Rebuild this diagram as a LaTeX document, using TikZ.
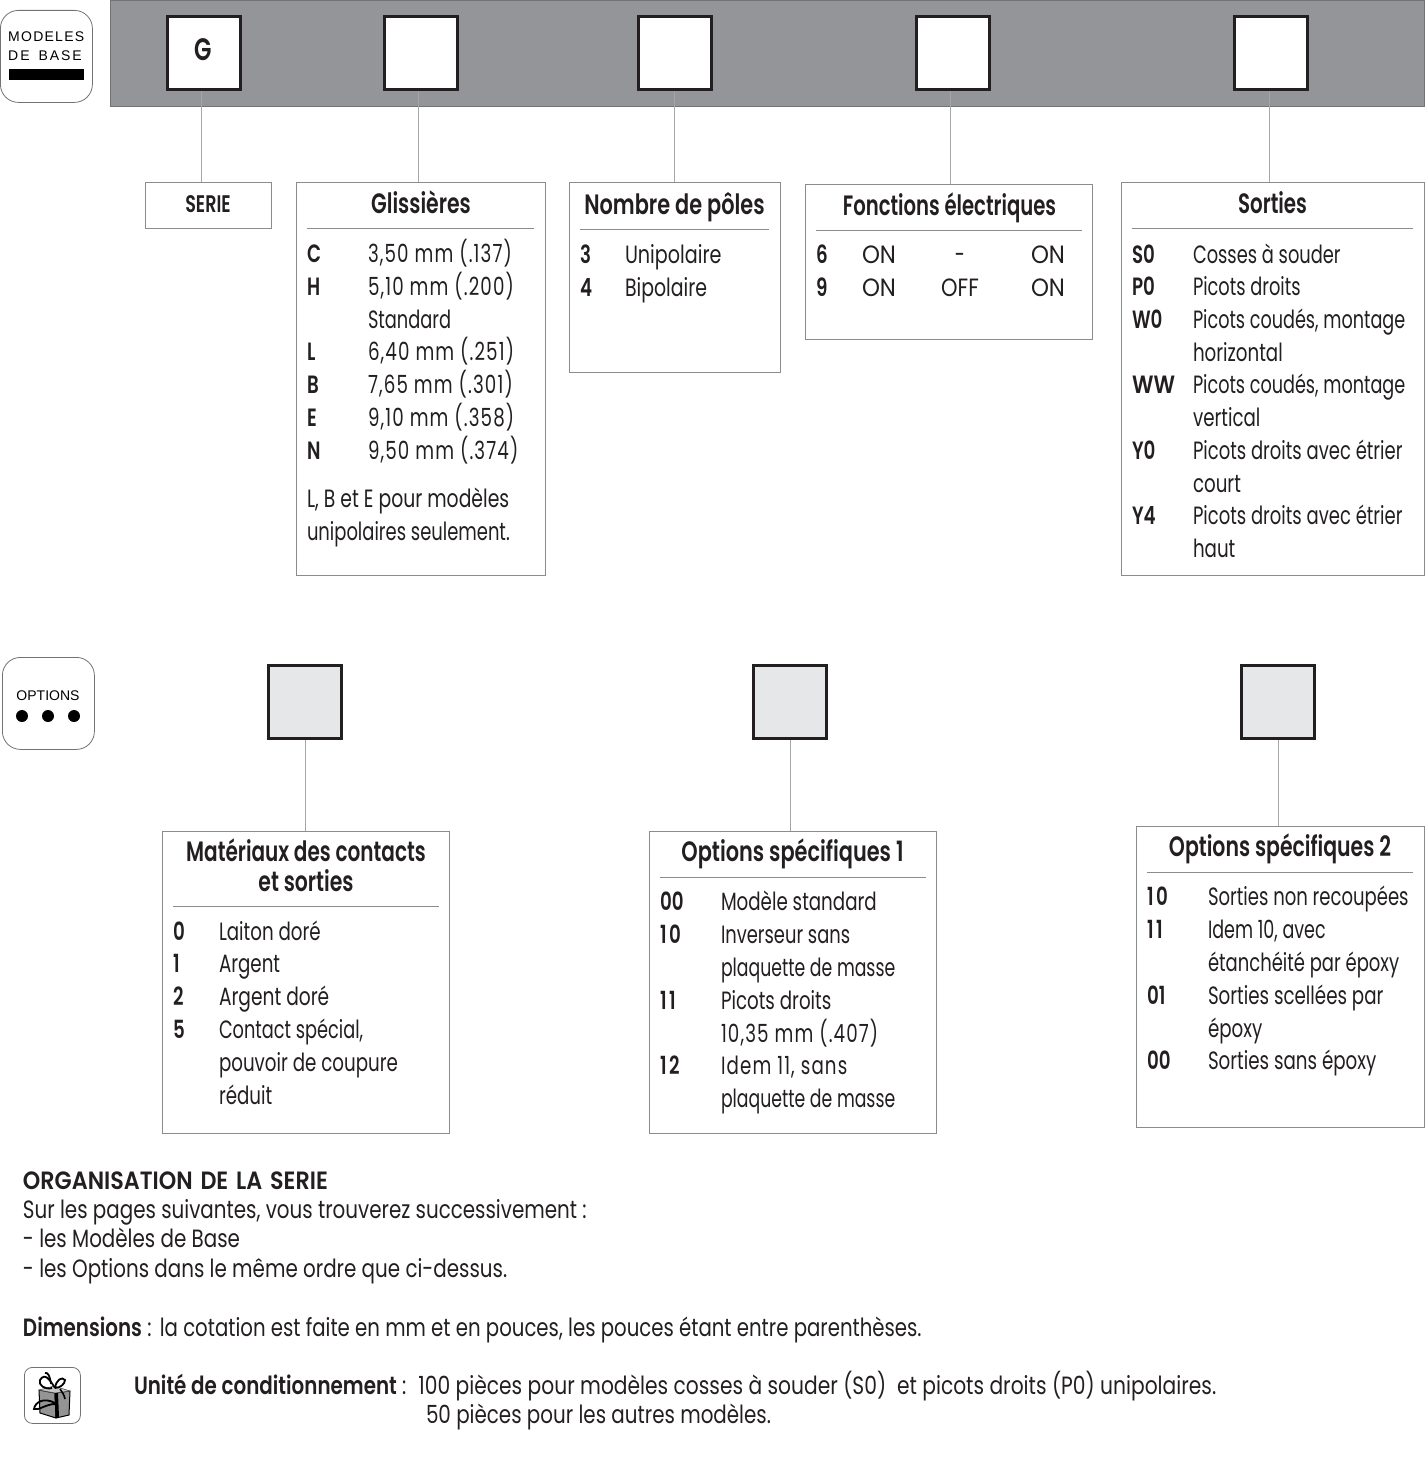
\documentclass[tikz,border=0pt]{standalone}
\usepackage{graphicx}
\usepackage{fontspec}
\setmainfont[FakeStretch=0.73,BoldFont={Poppins SemiBold},UprightFont={Poppins}]{Poppins}
\newfontfamily\numf[FakeStretch=0.73,LetterSpace=4.5,BoldFont={Poppins SemiBold},UprightFont={Poppins}]{Poppins}
\newfontfamily\bodyf[FakeStretch=0.795,BoldFont={Poppins SemiBold},UprightFont={Poppins}]{Poppins}
\newfontfamily\logof[LetterSpace=9]{Liberation Sans}
\newfontfamily\logodb[LetterSpace=14]{Liberation Sans}
\newfontfamily\logog{Liberation Sans}
\definecolor{band}{HTML}{939598}
\definecolor{hair}{HTML}{8A8C8E}
\definecolor{ink}{HTML}{231F20}
\definecolor{optfill}{HTML}{E6E7E8}
\newcommand{\xs}[2]{\scalebox{#1}[1]{#2}}
\newcommand{\un}{1\kern2.5pt}
\tikzset{
 panel/.style={draw=hair,line width=0.9pt,fill=white,anchor=north west,inner sep=0pt},
 sq/.style={draw=ink,line width=3pt,anchor=center,minimum width=73pt,minimum height=73pt,inner sep=0pt,fill=white},
 sqopt/.style={sq,fill=optfill},
 conn/.style={draw=black!35,line width=1pt},
 rule/.style={draw=black!45,line width=0.7pt},
 logo/.style={draw=black!55,line width=0.8pt,rounded corners=18pt,fill=white,anchor=north west,inner sep=0pt},
 tx/.style={anchor=base west,inner sep=0pt,outer sep=0pt,text=ink,font=\fontsize{25}{30}\selectfont},
 tn/.style={tx,font=\fontsize{25}{30}\numf},
 tb/.style={tx,font=\fontsize{25}{30}\selectfont\bfseries},
 tt/.style={anchor=base,inner sep=0pt,outer sep=0pt,text=ink,font=\fontsize{28}{34}\selectfont\bfseries},
 bd/.style={anchor=base west,inner sep=0pt,outer sep=0pt,text=ink,font=\fontsize{25}{30}\bodyf},
 bdb/.style={bd,font=\fontsize{25}{30}\bodyf\bfseries},
}
\begin{document}
\begin{tikzpicture}[x=1pt,y=-1pt]
\useasboundingbox (0,0) rectangle (1425,1464);
% top band
\node[anchor=north west,draw=black!55,line width=0.6pt,fill=band,minimum width=1314pt,minimum height=106pt,inner sep=0pt] (topband) at (110,0) {};
\node[logo,minimum width=92pt,minimum height=92pt] (logoBase) at (0,10) {};
\node[anchor=base west,inner sep=0pt,font=\fontsize{14}{16}\logof] (lbA) at (8,42) {MODELES};
\node[anchor=base west,inner sep=0pt,font=\fontsize{14}{16}\logodb] (lbB) at (8,60) {DE\kern9pt BASE};
\node[anchor=north west,fill=black,minimum width=75pt,minimum height=11pt,inner sep=0pt] (lbBar) at (9,69) {};
% squares
\node[sq,font=\fontsize{31}{34}\selectfont\bfseries,text=ink] (sqG) at (203.5,53) {\raisebox{6pt}{G}};
\node[sq] (sqB) at (421,53) {};
\node[sq] (sqC) at (675,53) {};
\node[sq] (sqD) at (953,53) {};
\node[sq] (sqE) at (1271,53) {};
% panels
\node[panel,minimum width=126pt,minimum height=46pt] (pSerie) at (145,182) {};
\node[panel,minimum width=249pt,minimum height=393pt] (pGliss) at (296,182) {};
\node[panel,minimum width=211pt,minimum height=190pt] (pNomb) at (569,182) {};
\node[panel,minimum width=287pt,minimum height=155pt] (pFonc) at (805,184) {};
\node[panel,minimum width=303pt,minimum height=393pt] (pSort) at (1121,182) {};
% connectors
\coordinate (cA) at (201,90);
\coordinate (cB) at (418,90);
\coordinate (cC) at (674,90);
\coordinate (cD) at (950,90);
\coordinate (cE) at (1269,90);
\draw[conn] (sqG.south-|cA) -- (pSerie.north-|cA);
\draw[conn] (sqB.south-|cB) -- (pGliss.north-|cB);
\draw[conn] (sqC.south-|cC) -- (pNomb.north-|cC);
\draw[conn] (sqD.south-|cD) -- (pFonc.north-|cD);
\draw[conn] (sqE.south-|cE) -- (pSort.north-|cE);
% serie
\node[anchor=base,inner sep=0pt,text=ink,font=\fontsize{24}{26}\selectfont\bfseries] (tSerie) at (208,212) {SERIE};
% glissieres
\node[tt] (tGl) at (421,213) {Glissières};
\draw[rule] (307,228) -- (534,228);
\node[tb] (g1a) at (307,262) {C};    \node[tn] (g1b) at (368,262) {3,50 mm (.137)};
\node[tb] (g2a) at (307,295) {H};    \node[tn] (g2b) at (368,295) {5,10 mm (.200)};
\node[tx] (g2c) at (368,328) {\xs{.976}{Standard}};
\node[tb] (g3a) at (307,360) {L};    \node[tn] (g3b) at (368,360) {6,40 mm (.251)};
\node[tb] (g4a) at (307,393) {B};    \node[tn] (g4b) at (368,393) {7,65 mm (.301)};
\node[tb] (g5a) at (307,426) {E};    \node[tn] (g5b) at (368,426) {9,10 mm (.358)};
\node[tb] (g6a) at (307,459) {N};    \node[tn] (g6b) at (368,459) {9,50 mm (.374)};
\node[tx] (g7) at (307,507) {\xs{1.03}{L, B et E pour modèles}};
\node[tx] (g8) at (307,540) {\xs{.983}{unipolaires seulement.}};
% nombre
\node[tt] (tNo) at (674.5,214) {\xs{1.02}{Nombre de pôles}};
\draw[rule] (580,229) -- (769,229);
\node[tb] (n1a) at (580,263) {3}; \node[tx] (n1b) at (625,263) {\xs{1.05}{Unipolaire}};
\node[tb] (n2a) at (580,296) {4}; \node[tx] (n2b) at (625,296) {\xs{1.037}{Bipolaire}};
% fonctions
\node[tt] (tFo) at (949.5,215) {\xs{.96}{Fonctions électriques}};
\draw[rule] (816,230) -- (1082,230);
\node[tb] (f1a) at (816,263) {6}; \node[tx] (f1b) at (862,263) {\xs{1.25}{ON}}; \node[tx,anchor=base] (f1c) at (960,263) {-}; \node[tx] (f1d) at (1031,263) {\xs{1.25}{ON}};
\node[tb] (f2a) at (816,296) {9}; \node[tx] (f2b) at (862,296) {\xs{1.25}{ON}}; \node[tx,anchor=base] (f2c) at (960,296) {\xs{1.15}{OFF}}; \node[tx] (f2d) at (1031,296) {\xs{1.25}{ON}};
% sorties
\node[tt] (tSo) at (1272.5,213) {\xs{.97}{Sorties}};
\draw[rule] (1132,228) -- (1413,228);
\node[tb] (s1a) at (1132,263) {S0}; \node[tx] (s1b) at (1193,263) {\xs{.977}{Cosses à souder}};
\node[tb] (s2a) at (1132,295) {P0}; \node[tx] (s2b) at (1193,295) {\xs{.975}{Picots droits}};
\node[tb] (s3a) at (1132,328) {W0}; \node[tx] (s3b) at (1193,328) {\xs{.966}{Picots coudés, montage}};
\node[tx] (s3c) at (1193,361) {horizontal};
\node[tb] (s4a) at (1132,393) {\xs{1.15}{WW}}; \node[tx] (s4b) at (1193,393) {\xs{.966}{Picots coudés, montage}};
\node[tx] (s4c) at (1193,426) {vertical};
\node[tb] (s5a) at (1132,459) {Y0}; \node[tx] (s5b) at (1193,459) {\xs{.986}{Picots droits avec étrier}};
\node[tx] (s5c) at (1193,492) {court};
\node[tb] (s6a) at (1132,524) {Y4}; \node[tx] (s6b) at (1193,524) {\xs{.986}{Picots droits avec étrier}};
\node[tx] (s6c) at (1193,557) {haut};
% options
\node[logo,minimum width=92pt,minimum height=92pt] (logoOpt) at (2,657) {};
\node[anchor=base,inner sep=0pt,font=\fontsize{14}{17}\logog] (loA) at (48,700) {OPTIONS};
\fill (22,716) circle (6pt) (48,716) circle (6pt) (74,716) circle (6pt);
\node[sqopt] (oA) at (305,702) {};
\node[sqopt] (oB) at (790,702) {};
\node[sqopt] (oC) at (1278,702) {};
\node[panel,minimum width=287pt,minimum height=302pt] (pMat) at (162,831) {};
\node[panel,minimum width=287pt,minimum height=302pt] (pOp1) at (649,831) {};
\node[panel,minimum width=288pt,minimum height=301pt] (pOp2) at (1136,826) {};
\draw[conn] (oA.south) -- (pMat.north-|oA);
\draw[conn] (oB.south) -- (pOp1.north-|oB);
\draw[conn] (oC.south) -- (pOp2.north-|oC);
% materiaux
\node[tt] (tMa) at (306,861) {\xs{.98}{Matériaux des contacts}};
\node[tt] (tMb) at (306,891) {et sorties};
\draw[rule] (173,906) -- (439,906);
\node[tb] (m1a) at (173,940) {0}; \node[tx] (m1b) at (219,940) {Laiton doré};
\node[tb] (m2a) at (173,972) {1}; \node[tx] (m2b) at (219,972) {Argent};
\node[tb] (m3a) at (173,1005) {2}; \node[tx] (m3b) at (219,1005) {\xs{1.02}{Argent doré}};
\node[tb] (m4a) at (173,1038) {5}; \node[tx] (m4b) at (219,1038) {\xs{.973}{Contact spécial,}};
\node[tx] (m4c) at (219,1071) {pouvoir de coupure};
\node[tx] (m4d) at (219,1104) {réduit};
% options 1
\node[tt] (tOa) at (792.5,861) {\xs{1.02}{Options spécifiques 1}};
\draw[rule] (660,877) -- (926,877);
\node[tb] (a1a) at (660,910) {00}; \node[tx] (a1b) at (721,910) {Modèle standard};
\node[tb] (a2a) at (660,943) {\un 0}; \node[tx] (a2b) at (721,943) {\xs{.98}{Inverseur sans}};
\node[tx] (a2c) at (721,976) {\xs{.947}{plaquette de masse}};
\node[tb] (a3a) at (660,1009) {\un\un}; \node[tx] (a3b) at (721,1009) {Picots droits};
\node[tn] (a3c) at (721,1042) {10,35 mm (.407)};
\node[tb] (a4a) at (660,1074) {\un 2}; \node[tn] (a4b) at (721,1074) {Idem 11, sans};
\node[tx] (a4c) at (721,1107) {\xs{.947}{plaquette de masse}};
% options 2
\node[tt] (tOb) at (1280,856) {Options spécifiques 2};
\draw[rule] (1147,872) -- (1413,872);
\node[tb] (b1a) at (1147,905) {\un 0}; \node[tx] (b1b) at (1208,905) {\xs{.988}{Sorties non recoupées}};
\node[tb] (b2a) at (1147,938) {\un\un}; \node[tx] (b2b) at (1208,938) {\xs{.96}{Idem 10, avec}};
\node[tx] (b2c) at (1208,971) {\xs{.985}{étanchéité par époxy}};
\node[tb] (b3a) at (1147,1004) {0\un}; \node[tx] (b3b) at (1208,1004) {Sorties scellées par};
\node[tx] (b3c) at (1208,1037) {époxy};
\node[tb] (b4a) at (1147,1069) {00}; \node[tx] (b4b) at (1208,1069) {Sorties sans époxy};
% bottom text
\node[bdb] (x1) at (23,1189) {\xs{1.12}{ORGANISATION\kern7pt DE\kern7pt LA\kern7pt SERIE}};
\node[bd] (x2) at (23,1218) {Sur les pages suivantes, vous trouverez successivement :};
\node[bd] (x3) at (23,1247) {- les Modèles de Base};
\node[bd] (x4) at (23,1277) {- les Options dans le même ordre que ci-dessus.};
\node[bd] (x5) at (23,1336) {\textbf{Dimensions} :\kern3pt\ \xs{.992}{la cotation est faite en mm et en pouces, les pouces étant entre parenthèses.}};
\node[bd] (x6) at (134,1394) {\textbf{Unité de conditionnement} :\kern12pt\xs{1.018}{100 pièces pour modèles cosses à souder (S0)\ \ et picots droits (P0) unipolaires.}};
\node[bd] (x7) at (426,1423) {50 pièces pour les autres modèles.};
% gift
\node[draw=black!55,line width=0.8pt,rounded corners=8pt,anchor=north west,minimum width=56pt,minimum height=56pt,inner sep=0pt] (giftBox) at (24,1367) {};
\filldraw[fill=black!42,draw=black,line width=1pt,line join=round] (39,1390) -- (55,1393) -- (56,1418) -- (40,1413) -- cycle;
\filldraw[fill=black!42,draw=black,line width=1pt,line join=round] (55,1393) -- (70,1391) -- (69,1415) -- (56,1418) -- cycle;
\filldraw[fill=black!22,draw=black!70,line width=.6pt] (39,1390) -- (54,1386) -- (70,1391) -- (55,1393) -- cycle;
\fill[black] (55,1393) -- (58,1393) -- (59,1417) -- (56,1418) -- cycle;
\draw[black,line width=1.8pt] (55,1388) .. controls (50,1380) and (45,1372) .. (40,1380) .. controls (38,1385) and (45,1390) .. (52,1388);
\draw[black,line width=1.8pt] (45,1373) .. controls (48,1372) and (50,1376) .. (51,1384);
\draw[black,line width=1.8pt] (55,1388) .. controls (56,1380) and (62,1376) .. (65,1380) .. controls (65,1384) and (60,1388) .. (55,1388);
\draw[black,line width=1.6pt] (60,1389) .. controls (62,1392) and (64,1394) .. (65,1399);
\draw[black,line width=1.8pt] (55,1403) .. controls (44,1397) and (35,1402) .. (34,1409) .. controls (38,1411) and (46,1404) .. (55,1404);
\end{tikzpicture}
\end{document}
